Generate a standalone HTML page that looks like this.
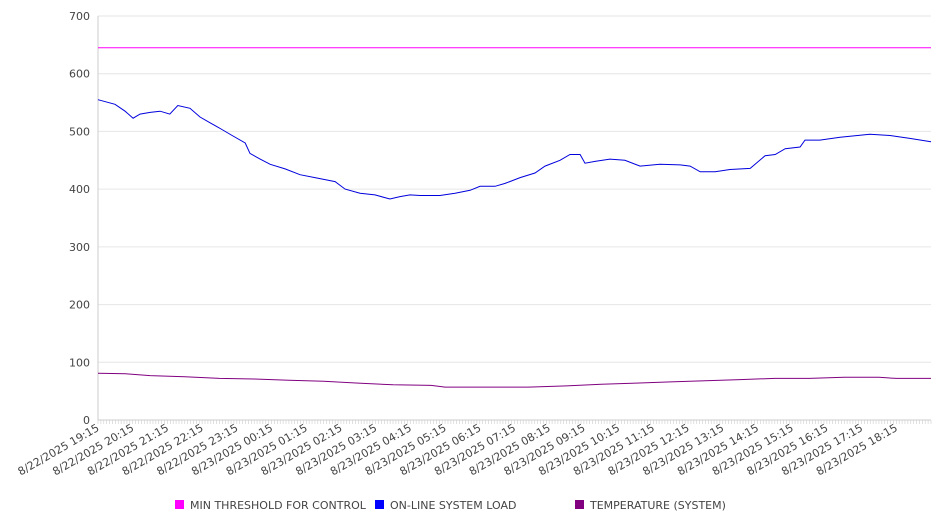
<!DOCTYPE html>
<html><head><meta charset="utf-8"><style>
body{margin:0;background:#fff;font-family:"DejaVu Sans","Liberation Sans",sans-serif;}
svg text{font-family:"DejaVu Sans","Liberation Sans",sans-serif;}
</style></head><body>
<svg id="chart" width="946" height="526" xmlns="http://www.w3.org/2000/svg"></svg>
<script>
const yTicks=[0,100,200,300,400,500,600,700];
const xLabels=["8/22/2025 19:15","8/22/2025 20:15","8/22/2025 21:15","8/22/2025 22:15","8/22/2025 23:15","8/23/2025 00:15","8/23/2025 01:15","8/23/2025 02:15","8/23/2025 03:15","8/23/2025 04:15","8/23/2025 05:15","8/23/2025 06:15","8/23/2025 07:15","8/23/2025 08:15","8/23/2025 09:15","8/23/2025 10:15","8/23/2025 11:15","8/23/2025 12:15","8/23/2025 13:15","8/23/2025 14:15","8/23/2025 15:15","8/23/2025 16:15","8/23/2025 17:15","8/23/2025 18:15"];
// hours since 8/22 19:15
const loadHours=[0,0.49,0.78,1.01,1.21,1.50,1.79,2.07,2.30,2.65,2.94,3.23,3.52,3.89,4.24,4.38,4.67,4.96,5.39,5.82,6.25,6.83,7.12,7.55,7.98,8.41,8.70,8.99,9.28,9.85,10.29,10.72,11.01,11.44,11.73,12.16,12.59,12.88,13.31,13.60,13.89,14.03,14.32,14.75,15.18,15.62,16.19,16.77,17.06,17.35,17.78,18.21,18.79,19.22,19.51,19.80,20.23,20.37,20.80,21.38,22.24,22.82,23.39,24];
const loadValues=[555,547,535,523,530,533,535,530,545,540,525,515,505,492,480,462,452,443,435,425,420,413,400,393,390,383,387,390,389,389,393,398,405,405,410,420,428,440,450,460,460,445,448,452,450,440,443,442,440,430,430,434,436,458,460,470,473,485,485,490,495,493,488,482];
const tempHours=[0,0.8,1.5,2.5,3.5,4.5,5.5,6.5,7.5,8.5,9.6,10,12.4,13.5,14.5,15.5,16.5,17.5,18.5,19.5,20.5,21.5,22.5,23,24];
const tempValues=[81,80,77,75,72,71,69,67,64,61,60,57,57,59,62,64,66,68,70,72,72,74,74,72,72];
const threshold=645;
const totalHours=24;

const svg=document.getElementById('chart');
const NS='http://www.w3.org/2000/svg';
const L=98,R=931,T=16,B=420;
const xs=h=>L+(R-L)*h/totalHours;
const ys=v=>B-(B-T)*v/700;
function mk(tag,attrs){const e=document.createElementNS(NS,tag);for(const k in attrs)e.setAttribute(k,attrs[k]);svg.appendChild(e);return e;}

yTicks.forEach(v=>{
  if(v>0){const g=mk('line',{x1:L,x2:R,y1:ys(v),y2:ys(v),stroke:'#e6e6e6','stroke-width':1});
  
  }
  const t=mk('text',{x:L-8,y:ys(v)+4,'text-anchor':'end','font-size':11,fill:'#444'});
  t.textContent=v;
  
  
});
const ax=mk('line',{x1:L,x2:L,y1:T,y2:B,stroke:'#ccc'});


const bx=mk('line',{x1:L,x2:R,y1:B,y2:B,stroke:'#ccc'});


for(let m=0;m<=totalHours*60;m+=5){
  const tk=mk('line',{x1:xs(m/60),x2:xs(m/60),y1:B,y2:B+4,stroke:'#ccc','stroke-width':0.6});
  
  
}
xLabels.forEach((s,i)=>{
  const x=xs(i)+2,y=B+10;
  const t=mk('text',{x:x,y:y,'text-anchor':'end','font-size':11,fill:'#444',transform:`rotate(-30 ${x} ${y})`});
  t.textContent=s;
  
  
});
const th=mk('line',{x1:L,x2:R,y1:ys(threshold),y2:ys(threshold),stroke:'#ff00ff','stroke-width':1});


function path(hs,vs,color,name){
  const d=hs.map((h,i)=>(i?'L':'M')+xs(h).toFixed(1)+' '+ys(vs[i]).toFixed(1)).join(' ');
  const p=mk('path',{d:d,fill:'none',stroke:color,'stroke-width':1});
  
  
}
path(loadHours,loadValues,'#0000dd','online-system-load-line');
path(tempHours,tempValues,'#800080','temperature-line');

const legend=[["MIN THRESHOLD FOR CONTROL","#ff00ff",175],["ON-LINE SYSTEM LOAD","#0000ff",375],["TEMPERATURE (SYSTEM)","#800080",575]];
legend.forEach(([lab,c,x])=>{
  const r=mk('rect',{x:x,y:500,width:9,height:9,fill:c});
  
  
  const t=mk('text',{x:x+15,y:509,'font-size':11,fill:'#444'});
  t.textContent=lab;
  
  
});
</script>
</body></html>
